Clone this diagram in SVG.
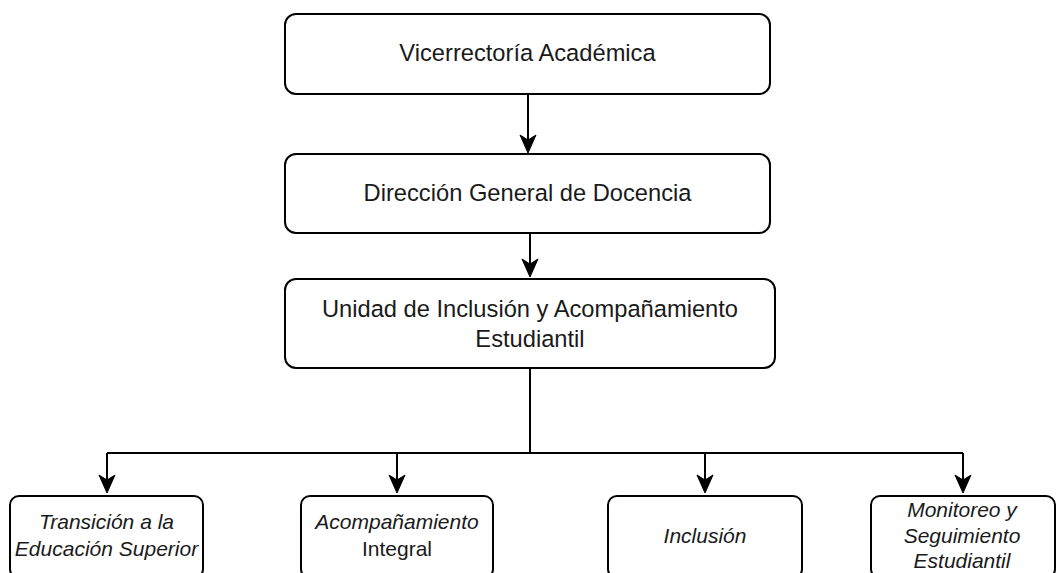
<svg xmlns="http://www.w3.org/2000/svg" width="1057" height="573" viewBox="0 0 1057 573">
<style>
.box{fill:#fff;stroke:#000;stroke-width:2}
.t{font-family:"Liberation Sans",Arial,sans-serif;font-size:23.7px;fill:#1a1a1a;text-anchor:middle}
.s{font-family:"Liberation Sans",Arial,sans-serif;font-size:21px;fill:#1a1a1a;text-anchor:middle}
.i{font-style:italic}
.ln{fill:none;stroke:#000;stroke-width:2}
.ah{fill:#000;stroke:#000;stroke-width:1}
</style>
<rect width="1057" height="573" fill="#fff"/>
<g id="connectors">
<path class="ln" d="M528 94 V141"/>
<path class="ah" d="M528 153 L520 135 L528 140 L536 135 Z"/>
<path class="ln" d="M530 233 V265"/>
<path class="ah" d="M530 277 L522 259 L530 264 L538 259 Z"/>
<path class="ln" d="M530 368 V453 M107 453 H963 M107 453 V481 M397 453 V481 M705 453 V481 M963 453 V481"/>
<path class="ah" d="M107 493 L99 475 L107 480 L115 475 Z"/>
<path class="ah" d="M397 493 L389 475 L397 480 L405 475 Z"/>
<path class="ah" d="M705 493 L697 475 L705 480 L713 475 Z"/>
<path class="ah" d="M963 493 L955 475 L963 480 L971 475 Z"/>
</g>
<g id="vicerrectoria">
<rect class="box" x="285" y="14" width="485" height="80" rx="11"/>
<text class="t" x="527.5" y="61">Vicerrectoría Académica</text>
</g>
<g id="direccion">
<rect class="box" x="285" y="154" width="485" height="79" rx="11"/>
<text class="t" x="527.5" y="201">Dirección General de Docencia</text>
</g>
<g id="unidad">
<rect class="box" x="285" y="279" width="490" height="89" rx="11"/>
<text class="t" x="530" y="317">Unidad de Inclusión y Acompañamiento</text>
<text class="t" x="530" y="347">Estudiantil</text>
</g>
<g id="transicion">
<rect class="box" x="10" y="496" width="193" height="82" rx="9"/>
<text class="s i" x="106.5" y="529">Transición a la</text>
<text class="s i" x="106.5" y="556">Educación Superior</text>
</g>
<g id="acompanamiento">
<rect class="box" x="301" y="496" width="192" height="82" rx="9"/>
<text class="s" x="397" y="529"><tspan class="i">Acompañamiento</tspan></text>
<text class="s" x="397" y="556">Integral</text>
</g>
<g id="inclusion">
<rect class="box" x="608" y="496" width="194" height="82" rx="9"/>
<text class="s i" x="705" y="543">Inclusión</text>
</g>
<g id="monitoreo">
<rect class="box" x="871" y="496" width="184" height="82" rx="9"/>
<text class="s i" x="962" y="517">Monitoreo y</text>
<text class="s i" x="962" y="543">Seguimiento</text>
<text class="s i" x="962" y="568">Estudiantil</text>
</g>
</svg>
